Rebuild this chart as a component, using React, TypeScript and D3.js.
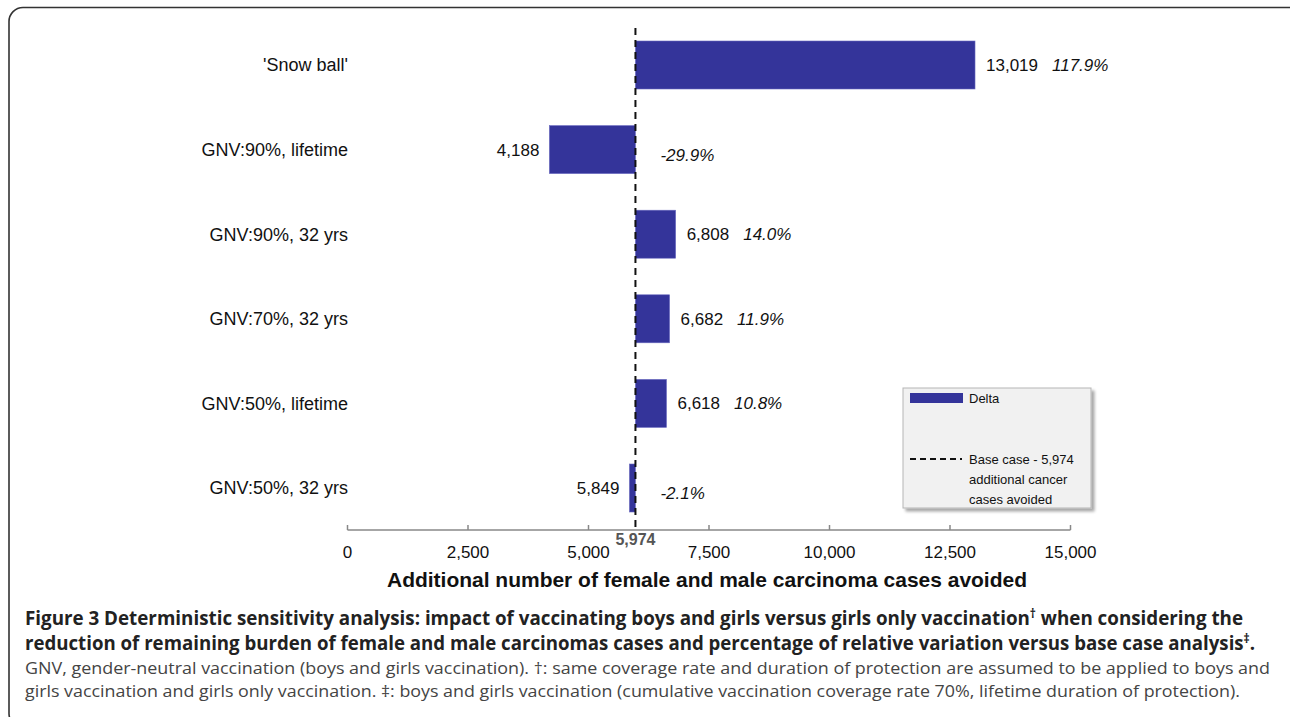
import React from "react";
import * as d3 from "d3";

const categories = [
  "'Snow ball'",
  "GNV:90%, lifetime",
  "GNV:90%, 32 yrs",
  "GNV:70%, 32 yrs",
  "GNV:50%, lifetime",
  "GNV:50%, 32 yrs",
];
const values = [13019, 4188, 6808, 6682, 6618, 5849];
const variations = ["117.9%", "-29.9%", "14.0%", "11.9%", "10.8%", "-2.1%"];
const baseCase = 5974;
const xTicks = [0, 2500, 5000, 7500, 10000, 12500, 15000];

const captionBold1 =
  "Figure 3 Deterministic sensitivity analysis: impact of vaccinating boys and girls versus girls only vaccination";
const captionBold1End = " when considering the";
const captionBold2 = "reduction of remaining burden of female and male carcinomas cases and percentage of relative variation versus base case analysis";
const captionReg1 =
  "GNV, gender-neutral vaccination (boys and girls vaccination). †: same coverage rate and duration of protection are assumed to be applied to boys and";
const captionReg2 =
  "girls vaccination and girls only vaccination. ‡: boys and girls vaccination (cumulative vaccination coverage rate 70%, lifetime duration of protection).";

const W = 1290;
const H = 717;
const BAR = "#34349a";
const FONT = "'Liberation Sans', Arial, Helvetica, sans-serif";
const CAP = "'Open Sans', 'Noto Sans', sans-serif";

export default function App() {
  const x = d3.scaleLinear().domain([0, 15000]).range([347.5, 1070.5]);
  const y = d3.scalePoint<string>().domain(categories).range([65, 488]);
  const barH = 48;
  const axisY = 530;
  const fmt = d3.format(",");

  return (
    <svg
      width={W}
      height={H}
      style={{ position: "absolute", left: 0, top: 0, background: "#fff" }}
    >
      <defs>
        <filter id="sh" x="-10%" y="-10%" width="130%" height="130%">
          <feGaussianBlur in="SourceAlpha" stdDeviation="1.5" />
          <feOffset dx="3" dy="3" result="b" />
          <feComponentTransfer>
            <feFuncA type="linear" slope="0.35" />
          </feComponentTransfer>
          <feMerge>
            <feMergeNode />
            <feMergeNode in="SourceGraphic" />
          </feMerge>
        </filter>
      </defs>
      {/* figure frame */}
      <rect x={9} y={7.5} width={1295} height={720} rx={14} ry={14} fill="none" stroke="#333" strokeWidth={1.6} />

      {/* category labels */}
      {categories.map((c) => (
        <text key={c} x={348} y={y(c)} dy="0.35em" textAnchor="end" fontFamily={FONT} fontSize={18} fill="#111">
          {c}
        </text>
      ))}

      {/* bars */}
      {categories.map((c, i) => {
        const v = values[i];
        const x0 = x(Math.min(v, baseCase));
        const x1 = x(Math.max(v, baseCase));
        return (
          <rect
            key={c}
            x={x0}
            y={(y(c) as number) - barH / 2}
            width={Math.max(1, x1 - x0)}
            height={barH}
            fill={BAR}
            stroke="#6a6ac0"
            strokeWidth={0.6}
          />
        );
      })}

      {/* value labels */}
      {categories.map((c, i) => {
        const v = values[i];
        const cy = y(c) as number;
        if (v >= baseCase) {
          return (
            <text key={c} x={x(v) + 11} y={cy} dy="0.35em" fontFamily={FONT} fontSize={17} fill="#111">
              <tspan>{fmt(v)}</tspan>
              <tspan dx={14} fontStyle="italic">
                {variations[i]}
              </tspan>
            </text>
          );
        }
        return (
          <g key={c}>
            <text x={x(v) - 10} y={cy} dy="0.35em" textAnchor="end" fontFamily={FONT} fontSize={17} fill="#111">
              {fmt(v)}
            </text>
            <text x={x(baseCase) + 25} y={cy + 5} dy="0.35em" fontFamily={FONT} fontSize={17} fontStyle="italic" fill="#111">
              {variations[i]}
            </text>
          </g>
        );
      })}

      {/* base case dashed line */}
      <line x1={x(baseCase)} x2={x(baseCase)} y1={28} y2={axisY} stroke="#111" strokeWidth={2} strokeDasharray="7,5" />

      {/* x axis */}
      <line x1={x(0)} x2={x(15000)} y1={axisY} y2={axisY} stroke="#888" strokeWidth={1.5} />
      {xTicks.map((t) => (
        <g key={t}>
          <line x1={x(t)} x2={x(t)} y1={axisY - 5} y2={axisY} stroke="#888" strokeWidth={1.5} />
          <text x={x(t)} y={558} textAnchor="middle" fontFamily={FONT} fontSize={17} fill="#111">
            {fmt(t)}
          </text>
        </g>
      ))}
      <text x={x(baseCase)} y={545} textAnchor="middle" fontFamily={FONT} fontSize={16} fontWeight="bold" fill="#555">
        {fmt(baseCase)}
      </text>
      <text x={387} y={587} fontFamily={FONT} fontSize={20.5} fontWeight="bold" fill="#111" textLength={640} lengthAdjust="spacingAndGlyphs">
        Additional number of female and male carcinoma cases avoided
      </text>

      {/* legend */}
      <g filter="url(#sh)">
        <rect x={903} y={388} width={188} height={120} fill="#f1f1f1" stroke="#b5b5b5" strokeWidth={1} />
      </g>
      <rect x={910} y={393} width={53} height={10} fill={BAR} />
      <text x={969} y={398} dy="0.35em" fontFamily={FONT} fontSize={13} fill="#111">
        Delta
      </text>
      <line x1={910} x2={962} y1={459} y2={459} stroke="#111" strokeWidth={2} strokeDasharray="6,4" />
      <text x={969} y={459} dy="0.35em" fontFamily={FONT} fontSize={13} fill="#111">
        Base case - {fmt(baseCase)}
      </text>
      <text x={969} y={479} dy="0.35em" fontFamily={FONT} fontSize={13} fill="#111">
        additional cancer
      </text>
      <text x={969} y={499} dy="0.35em" fontFamily={FONT} fontSize={13} fill="#111">
        cases avoided
      </text>

      {/* caption */}
      <text x={25} y={625} fontFamily={CAP} fontSize={19} fontWeight="bold" fill="#222" textLength={1218} lengthAdjust="spacingAndGlyphs">
        <tspan>{captionBold1}</tspan>
        <tspan dy={-7} fontSize={12}>†</tspan>
        <tspan dy={7}>{captionBold1End}</tspan>
      </text>
      <text x={25} y={650} fontFamily={CAP} fontSize={19} fontWeight="bold" fill="#222" textLength={1230} lengthAdjust="spacingAndGlyphs">
        <tspan>{captionBold2}</tspan>
        <tspan dy={-7} fontSize={12}>‡</tspan>
        <tspan dy={7}>.</tspan>
      </text>
      <text x={25} y={674} fontFamily={CAP} fontSize={16.5} fill="#444" textLength={1245} lengthAdjust="spacingAndGlyphs">
        {captionReg1}
      </text>
      <text x={25} y={697} fontFamily={CAP} fontSize={16.5} fill="#444" textLength={1215} lengthAdjust="spacingAndGlyphs">
        {captionReg2}
      </text>
    </svg>
  );
}
